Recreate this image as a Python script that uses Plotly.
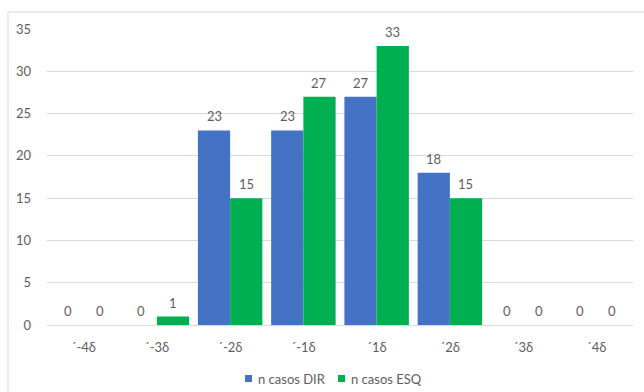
import plotly.graph_objects as go

categories = ["´-4δ", "´-3δ", "´-2δ", "´-1δ", "´1δ", "´2δ", "´3δ", "´4δ"]
dir_values = [0, 0, 23, 23, 27, 18, 0, 0]
esq_values = [0, 1, 15, 27, 33, 15, 0, 0]
y_ticks = [0, 5, 10, 15, 20, 25, 30, 35]
series_names = ["n casos DIR", "n casos ESQ"]

BLUE = "#4472C4"
GREEN = "#00B050"
TEXT = "#5E5E5E"
GRID = "#D9D9D9"
FONT = "Lato"

# plot area in pixels (used to place the legend in paper units)
L, R, T, B, W, H = 47, 11, 29, 67, 644, 392
PW, PH = W - L - R, H - T - B


def px_x(px):
    return (px - L) / PW


def px_y(py):
    return (H - B - py) / PH


fig = go.Figure()
fig.add_trace(go.Bar(name=series_names[0], x=categories, y=dir_values, showlegend=False,
                     marker=dict(color=BLUE, line=dict(width=0))))
fig.add_trace(go.Bar(name=series_names[1], x=categories, y=esq_values, showlegend=False,
                     marker=dict(color=GREEN, line=dict(width=0))))

# value labels above each bar
annotations = []
for cat, v in zip(categories, dir_values):
    annotations.append(dict(x=cat, y=v, text=str(v), xref="x", yref="y",
                            showarrow=False, xshift=-16, yshift=14,
                            font=dict(family=FONT, size=13, color=TEXT)))
for cat, v in zip(categories, esq_values):
    annotations.append(dict(x=cat, y=v, text=str(v), xref="x", yref="y",
                            showarrow=False, xshift=16, yshift=14,
                            font=dict(family=FONT, size=13, color=TEXT)))

# legend: small colour squares followed by the series names
shapes = [dict(type="rect", xref="paper", yref="paper",
               x0=px_x(8), x1=px_x(W + 5), y0=px_y(H + 5), y1=px_y(12),
               line=dict(color=GRID, width=1), fillcolor="rgba(0,0,0,0)", layer="below")]
for name, color, sx in zip(series_names, [BLUE, GREEN], [245, 338]):
    shapes.append(dict(type="rect", xref="paper", yref="paper",
                       x0=px_x(sx), x1=px_x(sx + 7), y0=px_y(382), y1=px_y(375),
                       line=dict(width=0), fillcolor=color))
    annotations.append(dict(x=px_x(sx + 11), y=px_y(378.5), xref="paper", yref="paper",
                            text=name, showarrow=False, xanchor="left", yanchor="middle",
                            font=dict(family=FONT, size=13, color=TEXT)))

fig.update_layout(
    width=W, height=H,
    margin=dict(l=L, r=R, t=T, b=B, autoexpand=False),
    paper_bgcolor="white", plot_bgcolor="white",
    barmode="group", bargap=0.12, bargroupgap=0,
    font=dict(family=FONT, size=13, color=TEXT),
    showlegend=False,
    annotations=annotations,
    shapes=shapes,
)
fig.update_xaxes(showgrid=False, showline=True, linecolor=GRID, linewidth=1,
                 ticks="", tickfont=dict(family=FONT, size=13, color=TEXT),
                 ticklabelstandoff=10)
fig.update_yaxes(range=[0, 35], tickvals=y_ticks, showgrid=True, gridcolor=GRID,
                 gridwidth=1, showline=False, zeroline=False, ticks="",
                 tickfont=dict(family=FONT, size=13, color=TEXT),
                 ticklabelstandoff=15)

fig.write_html("out.html")
